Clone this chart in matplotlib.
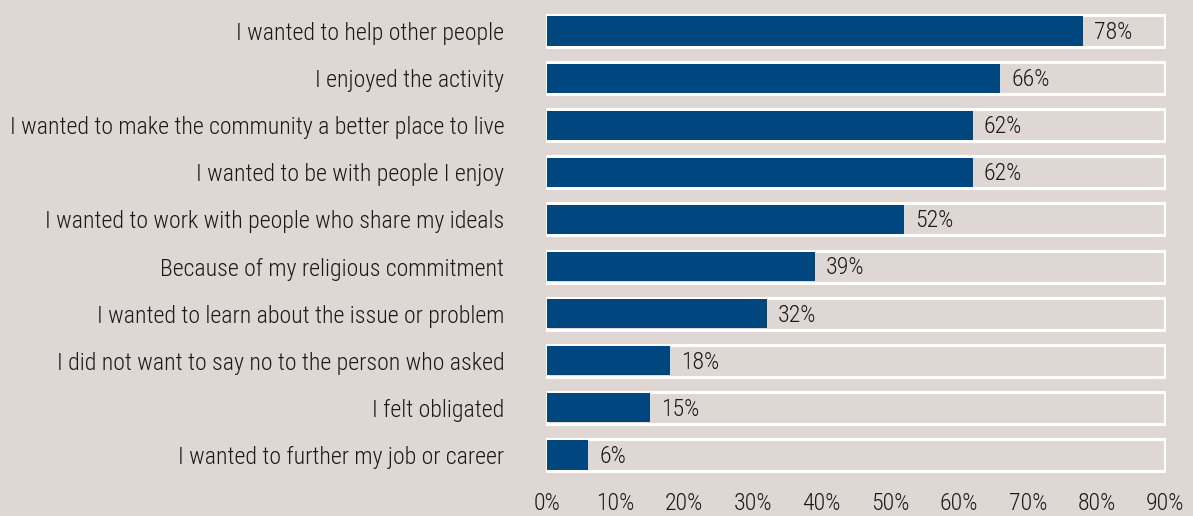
"""Reasons for volunteering: horizontal bar chart."""

import matplotlib.pyplot as plt
from matplotlib.ticker import FuncFormatter

REASONS = [
    "I wanted to help other people",
    "I enjoyed the activity",
    "I wanted to make the community a better place to live",
    "I wanted to be with people I enjoy",
    "I wanted to work with people who share my ideals",
    "Because of my religious commitment",
    "I wanted to learn about the issue or problem",
    "I did not want to say no to the person who asked",
    "I felt obligated",
    "I wanted to further my job or career",
]
SHARES = [78, 66, 62, 62, 52, 39, 32, 18, 15, 6]
AXIS_MAX = 90
XTICKS = [0, 10, 20, 30, 40, 50, 60, 70, 80, 90]

BG = "#dfd7d4"
NAVY = "#00467f"
TEXT = "#1a1a1a"
FONT = ["Roboto Condensed", "DejaVu Sans"]
SIZE = 17.2

plt.rcParams["font.family"] = FONT
plt.rcParams["font.weight"] = "light"

fig = plt.figure(figsize=(11.93, 5.16), dpi=100, facecolor=BG)
ax = fig.add_axes([546 / 1193, 1 - 478.5 / 516, 620 / 1193, 471 / 516])
ax.set_facecolor(BG)

ypos = list(range(len(REASONS)))
# white outlined track for the full 0-90% range, then the value bar inside it
ax.barh(ypos, [AXIS_MAX] * len(REASONS), height=0.68, left=0,
        facecolor="none", edgecolor="white", linewidth=2.2)
ax.barh(ypos, SHARES, height=0.62, color=NAVY, linewidth=0)

for y, v in zip(ypos, SHARES):
    ax.annotate(f"{v}%", (v, y), xytext=(8, -1), textcoords="offset points",
                ha="left", va="center", fontsize=SIZE, color=TEXT)

ax.set_xlim(-0.1, AXIS_MAX + 0.1)
ax.set_ylim(len(REASONS) - 0.5, -0.5)
ax.set_yticks(ypos, REASONS)
ax.set_xticks(XTICKS)
ax.xaxis.set_major_formatter(FuncFormatter(lambda v, _: f"{v:.0f}%"))
ax.tick_params(length=0, labelsize=SIZE, colors=TEXT)
ax.tick_params(axis="y", pad=30)
ax.tick_params(axis="x", pad=10)
for spine in ax.spines.values():
    spine.set_visible(False)

fig.savefig("out.png", dpi=100, facecolor=BG)
